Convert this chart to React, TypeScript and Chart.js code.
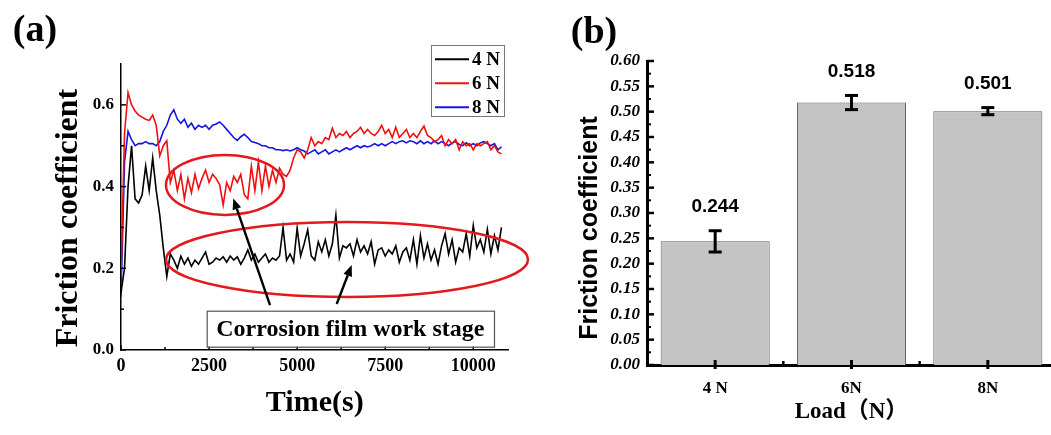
import React, { useEffect, useRef } from 'react';
import { Chart, registerables } from 'chart.js';

Chart.register(...registerables);

const SERIF = '"Liberation Serif", "Times New Roman", "DejaVu Serif", serif';
const SANS = '"Liberation Sans", Arial, "DejaVu Sans", sans-serif';
const SERIF_CJK = '"Liberation Serif", "Noto Sans CJK SC", serif';

// ---------- Panel (a): friction coefficient vs time ----------
const TIME_S = [
  0, 100, 200, 300, 400, 500, 600, 700, 800, 900,
  1000, 1100, 1200, 1300, 1400, 1500, 1600, 1700, 1800, 1900,
  2000, 2100, 2200, 2300, 2400, 2500, 2600, 2700, 2800, 2900,
  3000, 3100, 3200, 3300, 3400, 3500, 3600, 3700, 3800, 3900,
  4000, 4100, 4200, 4300, 4400, 4500, 4600, 4700, 4800, 4900,
  5000, 5100, 5200, 5300, 5400, 5500, 5600, 5700, 5800, 5900,
  6000, 6100, 6200, 6300, 6400, 6500, 6600, 6700, 6800, 6900,
  7000, 7100, 7200, 7300, 7400, 7500, 7600, 7700, 7800, 7900,
  8000, 8100, 8200, 8300, 8400, 8500, 8600, 8700, 8800, 8900,
  9000, 9100, 9200, 9300, 9400, 9500, 9600, 9700, 9800, 9900,
  10000, 10100, 10200, 10300, 10400, 10500, 10600, 10700, 10800,
];

const MU_4N = [
  0.14, 0.20, 0.40, 0.50, 0.37, 0.36, 0.38, 0.45, 0.39, 0.47,
  0.39, 0.33, 0.25, 0.18, 0.235, 0.22, 0.20, 0.23, 0.21, 0.225,
  0.205, 0.22, 0.21, 0.225, 0.24, 0.21, 0.215, 0.225, 0.22, 0.228,
  0.215, 0.23, 0.22, 0.228, 0.21, 0.225, 0.245, 0.22, 0.235, 0.215,
  0.225, 0.235, 0.215, 0.225, 0.22, 0.23, 0.30, 0.22, 0.235, 0.215,
  0.298, 0.23, 0.26, 0.294, 0.23, 0.22, 0.265, 0.24, 0.27, 0.23,
  0.26, 0.33, 0.225, 0.255, 0.25, 0.26, 0.23, 0.27, 0.24, 0.255,
  0.235, 0.265, 0.21, 0.245, 0.25, 0.23, 0.245, 0.235, 0.255, 0.215,
  0.24, 0.25, 0.22, 0.27, 0.21, 0.28, 0.225, 0.26, 0.22, 0.245,
  0.21, 0.255, 0.285, 0.235, 0.27, 0.215, 0.25, 0.24, 0.285, 0.23,
  0.305, 0.25, 0.27, 0.24, 0.295, 0.235, 0.28, 0.245, 0.30,
];

const MU_6N = [
  0.18, 0.53, 0.63, 0.60, 0.585, 0.575, 0.57, 0.565, 0.562, 0.575,
  0.55, 0.475, 0.50, 0.512, 0.41, 0.44, 0.39, 0.43, 0.37, 0.42,
  0.385, 0.43, 0.395, 0.42, 0.44, 0.41, 0.43, 0.42, 0.405, 0.355,
  0.41, 0.39, 0.425, 0.41, 0.43, 0.38, 0.37, 0.45, 0.39, 0.46,
  0.39, 0.45, 0.40, 0.44, 0.41, 0.445, 0.43, 0.425, 0.44, 0.47,
  0.49, 0.485, 0.47, 0.49, 0.52, 0.50, 0.51, 0.505, 0.52, 0.515,
  0.543, 0.52, 0.53, 0.525, 0.535, 0.52, 0.53, 0.535, 0.545, 0.53,
  0.54, 0.53, 0.525, 0.535, 0.55, 0.53, 0.54, 0.52, 0.545, 0.52,
  0.53, 0.54, 0.52, 0.53, 0.52, 0.535, 0.548, 0.525, 0.52, 0.51,
  0.515, 0.525, 0.50, 0.515, 0.505, 0.515, 0.49, 0.51, 0.50, 0.505,
  0.49, 0.505, 0.50, 0.505, 0.51, 0.49, 0.50, 0.485, 0.48,
];

const MU_8N = [
  0.13, 0.46, 0.535, 0.515, 0.50, 0.505, 0.505, 0.51, 0.505, 0.505,
  0.50, 0.51, 0.535, 0.55, 0.575, 0.588, 0.565, 0.555, 0.565, 0.545,
  0.555, 0.54, 0.55, 0.545, 0.55, 0.54, 0.55, 0.553, 0.558, 0.55,
  0.54, 0.53, 0.52, 0.513, 0.522, 0.528, 0.52, 0.51, 0.508, 0.505,
  0.50, 0.50, 0.495, 0.495, 0.49, 0.49, 0.488, 0.49, 0.487, 0.49,
  0.495, 0.49, 0.487, 0.48, 0.485, 0.49, 0.48, 0.485, 0.49, 0.48,
  0.485, 0.49, 0.485, 0.49, 0.495, 0.49, 0.495, 0.50, 0.495, 0.50,
  0.497, 0.50, 0.505, 0.50, 0.505, 0.50, 0.505, 0.51, 0.505, 0.51,
  0.512, 0.507, 0.512, 0.51, 0.505, 0.512, 0.505, 0.51, 0.505, 0.512,
  0.505, 0.51, 0.505, 0.50, 0.507, 0.51, 0.503, 0.50, 0.507, 0.50,
  0.505, 0.50, 0.507, 0.51, 0.505, 0.50, 0.505, 0.49, 0.497,
];

const SERIES_LABELS = ['4 N', '6 N', '8 N'];
const SERIES_COLORS = ['#000000', '#ee1111', '#1515e0'];

const TIME_TICKS = [0, 2500, 5000, 7500, 10000];
const TIME_MINOR = [1250, 3750, 6250, 8750];
const MU_TICKS_A = [0, 0.2, 0.4, 0.6];
const MU_MINOR_A = [0.1, 0.3, 0.5];

// annotations in data units (time s, friction coefficient)
const HIGHLIGHT_ELLIPSES = [
  { t: 2952, mu: 0.404, dt: 1675, dmu: 0.0734 },
  { t: 6416, mu: 0.2215, dt: 5138, dmu: 0.0918 },
];
const NOTE_ARROWS = [
  { t0: 4230, mu0: 0.110, t1: 3188, mu1: 0.371 },
  { t0: 6123, mu0: 0.1126, t1: 6549, mu1: 0.208 },
];
const NOTE_BOX = { t0: 2433, t1: 10588, muTop: 0.0962, muBottom: 0.0081, text: 'Corrosion film work stage' };

// ---------- Panel (b): mean friction coefficient by load ----------
const LOADS = ['4 N', '6N', '8N'];
const MEAN_MU = [0.244, 0.518, 0.501];
const MU_ERR = [0.021, 0.014, 0.007];
const MU_TICKS_B = [0, 0.05, 0.1, 0.15, 0.2, 0.25, 0.3, 0.35, 0.4, 0.45, 0.5, 0.55, 0.6];
const MU_MINOR_B = [0.025, 0.075, 0.125, 0.175, 0.225, 0.275, 0.325, 0.375, 0.425, 0.475, 0.525, 0.575];

function seg(ctx: CanvasRenderingContext2D, x0: number, y0: number, x1: number, y1: number) {
  ctx.beginPath();
  ctx.moveTo(x0, y0);
  ctx.lineTo(x1, y1);
  ctx.stroke();
}

function arrow(ctx: CanvasRenderingContext2D, x0: number, y0: number, x1: number, y1: number) {
  const ang = Math.atan2(y1 - y0, x1 - x0);
  const L = 11;
  const W = 4.5;
  const bx = x1 - L * Math.cos(ang);
  const by = y1 - L * Math.sin(ang);
  seg(ctx, x0, y0, bx, by);
  ctx.beginPath();
  ctx.moveTo(x1, y1);
  ctx.lineTo(bx + W * Math.sin(ang), by - W * Math.cos(ang));
  ctx.lineTo(bx - W * Math.sin(ang), by + W * Math.cos(ang));
  ctx.closePath();
  ctx.fill();
}

const panelAOverlay = {
  id: 'panelAOverlay',
  afterDatasetsDraw(chart: any) {
    const { ctx, chartArea: ca } = chart;
    const x = chart.scales.x;
    const y = chart.scales.y;
    ctx.save();
    // inward tick marks
    ctx.strokeStyle = '#000';
    ctx.lineWidth = 1.5;
    TIME_TICKS.forEach((t) => { const p = x.getPixelForValue(t); seg(ctx, p, ca.bottom, p, ca.bottom - 5); });
    TIME_MINOR.forEach((t) => { const p = x.getPixelForValue(t); seg(ctx, p, ca.bottom, p, ca.bottom - 3); });
    MU_TICKS_A.forEach((m) => { const p = y.getPixelForValue(m); seg(ctx, ca.left, p, ca.left + 5, p); });
    MU_MINOR_A.forEach((m) => { const p = y.getPixelForValue(m); seg(ctx, ca.left, p, ca.left + 3, p); });

    // highlight ellipses
    ctx.strokeStyle = '#e3191f';
    ctx.lineWidth = 2.5;
    HIGHLIGHT_ELLIPSES.forEach((e) => {
      const cx = x.getPixelForValue(e.t);
      const cy = y.getPixelForValue(e.mu);
      const rx = x.getPixelForValue(e.t + e.dt) - cx;
      const ry = cy - y.getPixelForValue(e.mu + e.dmu);
      ctx.beginPath();
      ctx.ellipse(cx, cy, rx, ry, 0, 0, Math.PI * 2);
      ctx.stroke();
    });

    // arrows
    ctx.strokeStyle = '#000';
    ctx.fillStyle = '#000';
    ctx.lineWidth = 2.4;
    NOTE_ARROWS.forEach((a) => {
      arrow(ctx, x.getPixelForValue(a.t0), y.getPixelForValue(a.mu0), x.getPixelForValue(a.t1), y.getPixelForValue(a.mu1));
    });

    // note box
    const bx0 = x.getPixelForValue(NOTE_BOX.t0);
    const bx1 = x.getPixelForValue(NOTE_BOX.t1);
    const by0 = y.getPixelForValue(NOTE_BOX.muTop);
    const by1 = y.getPixelForValue(NOTE_BOX.muBottom);
    ctx.fillStyle = '#fff';
    ctx.fillRect(bx0, by0, bx1 - bx0, by1 - by0);
    ctx.strokeStyle = '#555';
    ctx.lineWidth = 1.2;
    ctx.strokeRect(bx0 + 0.5, by0 + 0.5, bx1 - bx0, by1 - by0);
    ctx.fillStyle = '#000';
    ctx.font = `bold 24px ${SERIF}`;
    ctx.textAlign = 'center';
    ctx.textBaseline = 'middle';
    ctx.fillText(NOTE_BOX.text, (bx0 + bx1) / 2, (by0 + by1) / 2 + 1);
    ctx.restore();
  },
  afterDraw(chart: any) {
    const { ctx, chartArea: ca } = chart;
    ctx.save();
    // legend
    const lx = ca.right - 77.5;
    const ly = ca.top - 19;
    ctx.fillStyle = '#fff';
    ctx.fillRect(lx, ly, 73, 71);
    ctx.strokeStyle = '#777';
    ctx.lineWidth = 1;
    ctx.strokeRect(lx + 0.5, ly + 0.5, 73, 71);
    ctx.font = `bold 19px ${SERIF}`;
    ctx.textAlign = 'left';
    ctx.textBaseline = 'middle';
    chart.data.datasets.forEach((ds: any, i: number) => {
      const ry = ly + 14.3 + i * 24;
      ctx.strokeStyle = ds.borderColor;
      ctx.lineWidth = 2;
      seg(ctx, lx + 4, ry, lx + 38, ry);
      ctx.fillStyle = '#000';
      ctx.fillText(ds.label, lx + 41, ry + 1);
    });
    // y title
    ctx.fillStyle = '#000';
    ctx.font = `bold 32px ${SERIF}`;
    ctx.textAlign = 'center';
    ctx.textBaseline = 'middle';
    ctx.translate(69, 218);
    ctx.rotate(-Math.PI / 2);
    ctx.fillText('Friction coefficient', 0, 0);
    ctx.restore();
    ctx.save();
    ctx.fillStyle = '#000';
    ctx.font = `bold 38px ${SERIF}`;
    ctx.textAlign = 'center';
    ctx.textBaseline = 'middle';
    ctx.fillText('(a)', 35, 31);
    ctx.restore();
  },
};

const panelBOverlay = {
  id: 'panelBOverlay',
  afterDatasetsDraw(chart: any) {
    const { ctx, chartArea: ca } = chart;
    const x = chart.scales.x;
    const y = chart.scales.y;
    ctx.save();
    // error bars and value labels
    ctx.strokeStyle = '#000';
    ctx.fillStyle = '#000';
    MEAN_MU.forEach((m, i) => {
      const px = x.getPixelForValue(i);
      const yt = y.getPixelForValue(m + MU_ERR[i]);
      const yb = y.getPixelForValue(m - MU_ERR[i]);
      ctx.lineWidth = 3;
      seg(ctx, px, yt, px, yb);
      seg(ctx, px - 6.5, yt, px + 6.5, yt);
      seg(ctx, px - 6.5, yb, px + 6.5, yb);
      ctx.font = `bold 19px ${SANS}`;
      ctx.textAlign = 'center';
      ctx.textBaseline = 'middle';
      ctx.fillText(m.toFixed(3), px, yt - 24);
    });
    // inward y ticks
    ctx.lineWidth = 2.5;
    MU_TICKS_B.forEach((m) => { const p = y.getPixelForValue(m); seg(ctx, ca.left, p, ca.left + 7, p); });
    ctx.lineWidth = 2;
    MU_MINOR_B.forEach((m) => { const p = y.getPixelForValue(m); seg(ctx, ca.left, p, ca.left + 4, p); });
    // x ticks
    ctx.lineWidth = 3;
    LOADS.forEach((_, i) => { const p = x.getPixelForValue(i); seg(ctx, p, ca.bottom - 5, p, ca.bottom + 4); });
    ctx.lineWidth = 2.5;
    [0.5, 1.5].forEach((v) => { const p = x.getPixelForValue(v); seg(ctx, p, ca.bottom - 4, p, ca.bottom + 1); });
    ctx.restore();
  },
  afterDraw(chart: any) {
    const { ctx } = chart;
    ctx.save();
    ctx.fillStyle = '#000';
    ctx.font = `bold 25px ${SANS}`;
    ctx.textAlign = 'center';
    ctx.textBaseline = 'middle';
    ctx.translate(50, 228);
    ctx.rotate(-Math.PI / 2);
    ctx.fillText('Friction coefficient', 0, 0);
    ctx.restore();
    ctx.save();
    ctx.fillStyle = '#000';
    ctx.font = `bold 38px ${SERIF}`;
    ctx.textAlign = 'center';
    ctx.textBaseline = 'middle';
    ctx.fillText('(b)', 54, 33);
    ctx.restore();
  },
};

export default function App() {
  const refA = useRef<HTMLCanvasElement>(null);
  const refB = useRef<HTMLCanvasElement>(null);

  useEffect(() => {
    const seriesValues = [MU_4N, MU_6N, MU_8N];
    const chartA = new Chart(refA.current as HTMLCanvasElement, {
      type: 'line',
      data: {
        datasets: SERIES_LABELS.map((label, k) => ({
          label,
          data: TIME_S.map((t, i) => ({ x: t, y: seriesValues[k][i] })),
          borderColor: SERIES_COLORS[k],
          backgroundColor: SERIES_COLORS[k],
          borderWidth: 1.6,
          pointRadius: 0,
          tension: 0,
          fill: false,
        })),
      },
      options: {
        animation: false,
        responsive: false,
        maintainAspectRatio: false,
        layout: { padding: { top: 64, right: 31.5, bottom: 0, left: 0 } },
        plugins: { legend: { display: false }, tooltip: { enabled: false } },
        scales: {
          x: {
            type: 'linear',
            min: 0,
            max: 11000,
            afterBuildTicks: (s: any) => { s.ticks = TIME_TICKS.map((v) => ({ value: v })); },
            afterFit: (s: any) => { s.height = 85; },
            grid: { display: false, drawTicks: false },
            border: { display: true, color: '#000', width: 1.5 },
            ticks: { color: '#000', padding: 6, maxRotation: 0, font: { family: SERIF, size: 18, weight: 'bold' }, callback: (v: any) => String(v) },
            title: { display: true, text: 'Time(s)', color: '#000', font: { family: SERIF, size: 30, weight: 'bold' }, padding: { top: 0, bottom: 14 } },
          },
          y: {
            type: 'linear',
            min: 0,
            max: 0.7,
            afterBuildTicks: (s: any) => { s.ticks = MU_TICKS_A.map((v) => ({ value: v })); },
            afterFit: (s: any) => { s.width = 121; },
            grid: { display: false, drawTicks: false },
            border: { display: true, color: '#000', width: 1.5 },
            ticks: { color: '#000', padding: 7, font: { family: SERIF, size: 17, weight: 'bold' }, callback: (v: any) => Number(v).toFixed(1) },
          },
        },
      } as any,
      plugins: [panelAOverlay],
    });

    const chartB = new Chart(refB.current as HTMLCanvasElement, {
      type: 'bar',
      data: {
        labels: LOADS,
        datasets: [{
          label: 'Friction coefficient',
          data: MEAN_MU,
          backgroundColor: '#c4c4c4',
          borderColor: '#5e5e5e',
          borderWidth: 1,
          barPercentage: 0.8,
          categoryPercentage: 1,
        }],
      },
      options: {
        animation: false,
        responsive: false,
        maintainAspectRatio: false,
        layout: { padding: { top: 61, right: 4, bottom: 0, left: 0 } },
        plugins: { legend: { display: false }, tooltip: { enabled: false } },
        scales: {
          x: {
            afterFit: (s: any) => { s.height = 70; },
            grid: { display: false, drawTicks: false },
            border: { display: true, color: '#000', width: 3 },
            ticks: { color: '#000', padding: 13, font: { family: SERIF, size: 17, weight: 'bold' } },
            title: { display: true, text: 'Load（N）', color: '#000', font: { family: SERIF_CJK, size: 23, weight: 'bold' }, padding: { top: 0, bottom: 9 } },
          },
          y: {
            min: 0,
            max: 0.6,
            afterBuildTicks: (s: any) => { s.ticks = MU_TICKS_B.map((v) => ({ value: v })); },
            afterFit: (s: any) => { s.width = 107; },
            grid: { display: false, drawTicks: false },
            border: { display: true, color: '#000', width: 3 },
            ticks: { color: '#000', padding: 7, font: { family: SERIF, size: 17, weight: 'bold', style: 'italic' }, callback: (v: any) => Number(v).toFixed(2) },
          },
        },
      } as any,
      plugins: [panelBOverlay],
    });

    return () => {
      chartA.destroy();
      chartB.destroy();
    };
  }, []);

  return (
    <div style={{ position: 'fixed', left: 0, top: 0, width: 1051, height: 435, overflow: 'hidden', background: '#fff' }}>
      <canvas ref={refA} width={540} height={435} style={{ position: 'absolute', left: 0, top: 0, width: 540, height: 435 }} />
      <canvas ref={refB} width={520} height={435} style={{ position: 'absolute', left: 540, top: 0, width: 520, height: 435 }} />
    </div>
  );
}
